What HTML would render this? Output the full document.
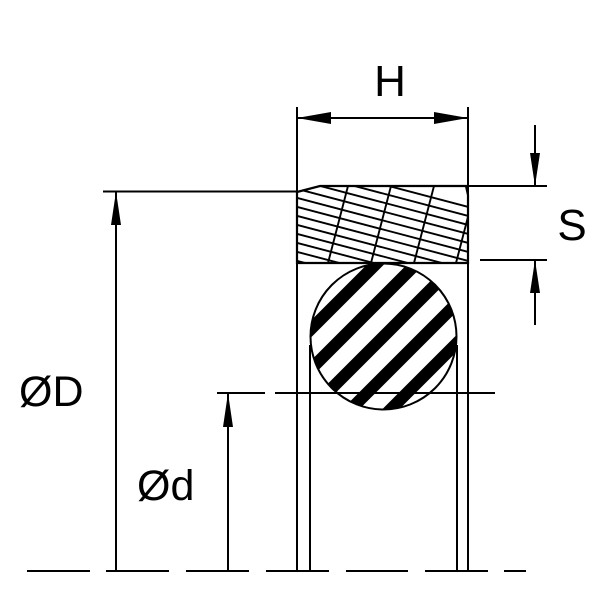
<!DOCTYPE html>
<html><head><meta charset="utf-8"><style>
html,body{margin:0;padding:0;background:#fff;}
svg{display:block;}
text{font-family:"Liberation Sans",Arial,sans-serif;fill:#000;}
</style></head><body>
<svg width="600" height="600" viewBox="0 0 600 600" xmlns="http://www.w3.org/2000/svg">
<defs>
<clipPath id="cc"><circle cx="383.5" cy="336.5" r="73"/></clipPath>
<clipPath id="rc"><polygon points="297,192 320,186 466,186 468,195 468,263 297,263"/></clipPath>
</defs>
<rect width="600" height="600" fill="#fff"/>
<g stroke="#000" fill="none" stroke-width="2">
<line x1="297" y1="107" x2="297" y2="571"/>
<line x1="468" y1="107" x2="468" y2="571"/>
<line x1="310" y1="345" x2="310" y2="571"/>
<line x1="457" y1="345" x2="457" y2="571"/>
<polygon points="297,192 320,186 466,186 468,195 468,263 297,263" stroke-width="2.2"/>
<line x1="466" y1="186" x2="547" y2="186"/>
<line x1="480" y1="260" x2="547" y2="260"/>
<line x1="103" y1="191.5" x2="297" y2="191.5"/>
<line x1="217" y1="393" x2="265" y2="393"/>
<line x1="275" y1="393" x2="495" y2="393"/>
<line x1="27" y1="571" x2="90" y2="571"/>
<line x1="106" y1="571" x2="169" y2="571"/>
<line x1="186" y1="571" x2="249" y2="571"/>
<line x1="266" y1="571" x2="329" y2="571"/>
<line x1="346" y1="571" x2="408" y2="571"/>
<line x1="425" y1="571" x2="488" y2="571"/>
<line x1="504" y1="571" x2="526" y2="571"/>
<line x1="297" y1="118" x2="468" y2="118"/>
<line x1="535" y1="125" x2="535" y2="186"/>
<line x1="535" y1="260" x2="535" y2="325"/>
<line x1="116" y1="191" x2="116" y2="571"/>
<line x1="228" y1="393" x2="228" y2="571"/>
</g>
<g fill="#000">
<polygon points="297,118 331,112 331,124"/>
<polygon points="468,118 434,112 434,124"/>
<polygon points="535,186 530,153 540,153"/>
<polygon points="535,260 530,293 540,293"/>
<polygon points="116,191.5 111,225 121,225"/>
<polygon points="228,393 223,427 233,427"/>
</g>
<g clip-path="url(#rc)" stroke="#000" stroke-width="1.9">
<line x1="290" y1="160" x2="480" y2="210"/>
<line x1="290" y1="169" x2="480" y2="219"/>
<line x1="290" y1="178" x2="480" y2="228"/>
<line x1="290" y1="187" x2="480" y2="237"/>
<line x1="290" y1="196" x2="480" y2="246"/>
<line x1="290" y1="205" x2="480" y2="255"/>
<line x1="290" y1="214" x2="480" y2="264"/>
<line x1="290" y1="223" x2="480" y2="273"/>
<line x1="290" y1="232" x2="480" y2="282"/>
<line x1="290" y1="241" x2="480" y2="291"/>
<line x1="290" y1="250" x2="480" y2="300"/>
<line x1="290" y1="259" x2="480" y2="309"/>
<line x1="348" y1="186" x2="328" y2="263"/>
<line x1="391" y1="186" x2="371" y2="263"/>
<line x1="434" y1="186" x2="414" y2="263"/>
<line x1="476" y1="186" x2="456" y2="263"/>
</g>
<g clip-path="url(#cc)" stroke="#000" stroke-width="12">
<line x1="190" y1="450" x2="490" y2="150"/>
<line x1="230" y1="450" x2="530" y2="150"/>
<line x1="270" y1="450" x2="570" y2="150"/>
<line x1="310" y1="450" x2="610" y2="150"/>
<line x1="350" y1="450" x2="650" y2="150"/>
</g>
<circle cx="383.5" cy="336.5" r="73" fill="none" stroke="#000" stroke-width="2"/>
<text x="390" y="96" font-size="44" text-anchor="middle">H</text>
<text x="572" y="240" font-size="44" text-anchor="middle">S</text>
<text x="19" y="406" font-size="43">ØD</text>
<text x="137" y="500" font-size="43">Ød</text>
</svg>
</body></html>
